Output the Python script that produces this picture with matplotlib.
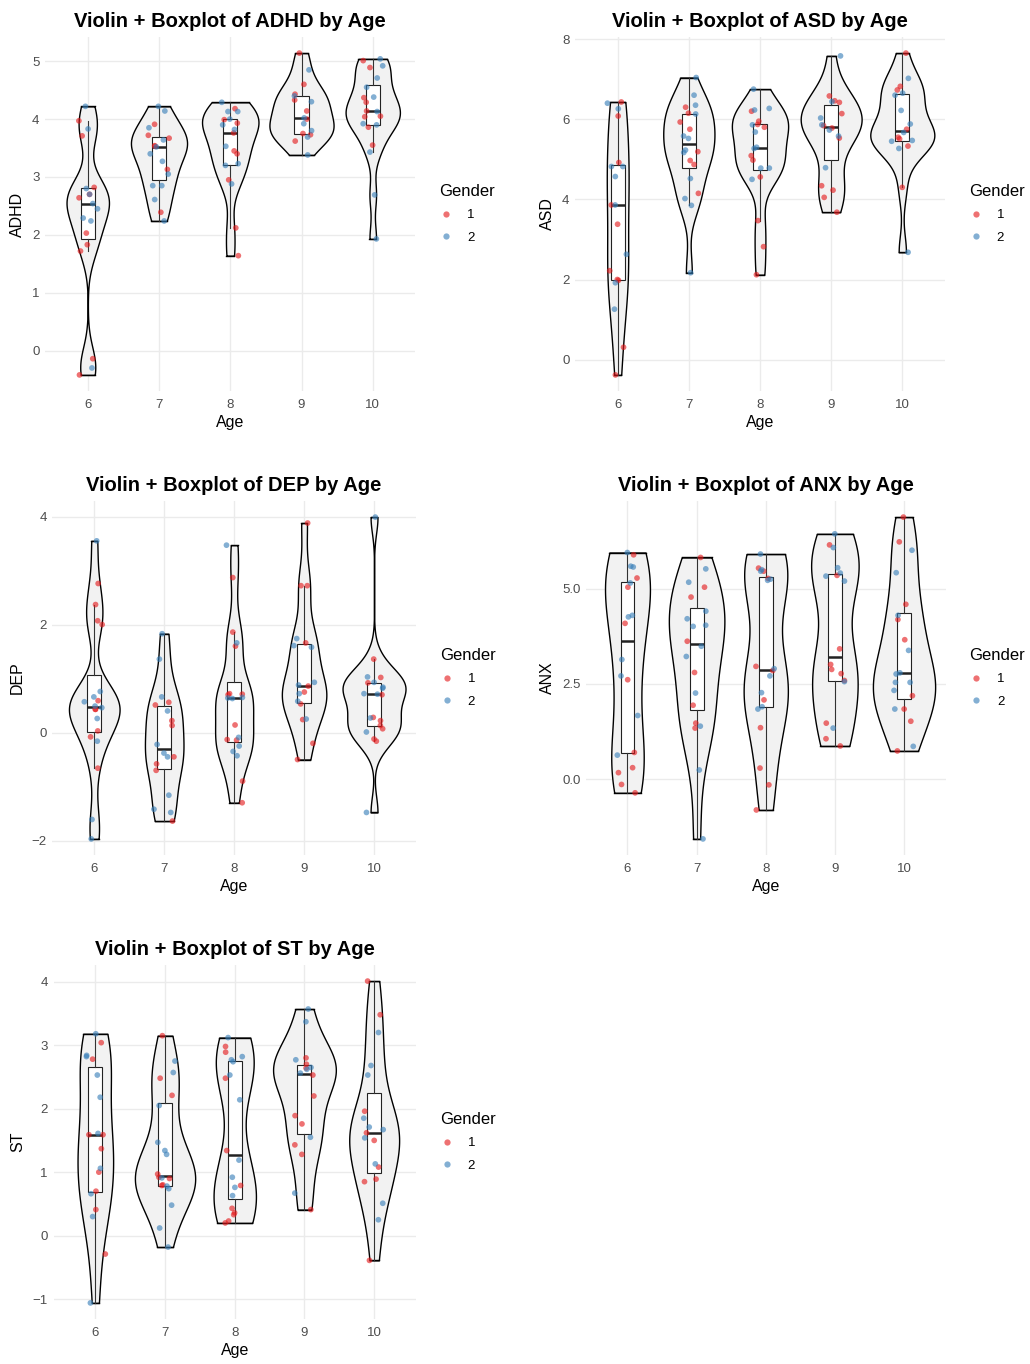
import numpy as np
import matplotlib
matplotlib.use("Agg")
import matplotlib.pyplot as plt
from matplotlib.lines import Line2D

plt.rcParams["font.family"] = ["Liberation Sans", "DejaVu Sans"]

AGES = [6, 7, 8, 9, 10]
GENDERS = ["1", "2"]
COLORS = {"1": "#E41A1C", "2": "#377EB8"}

# values per age (6..10), split by gender 1 / gender 2
ADHD_G1 = [[3.97, 3.71, 2.82, 2.70, 2.64, 2.03, 1.83, 1.72, -0.14, -0.42],
           [3.91, 3.72, 3.67, 3.54, 3.53, 3.13, 2.39],
           [4.18, 3.99, 3.93, 3.76, 3.45, 3.40, 2.95, 2.12, 1.64],
           [5.14, 4.60, 4.43, 4.33, 4.14, 4.00, 3.75, 3.73, 3.62],
           [5.01, 4.89, 4.37, 4.29, 4.14, 4.05, 4.04, 3.86, 3.55]]
ADHD_G2 = [[4.22, 3.83, 2.80, 2.70, 2.54, 2.45, 2.29, 2.24, -0.30],
           [4.22, 4.14, 3.85, 3.64, 3.52, 3.40, 3.27, 3.05, 2.85, 2.85, 2.61, 2.24],
           [4.29, 4.13, 4.13, 4.00, 3.90, 3.82, 3.53, 3.23, 3.20, 2.88],
           [4.85, 4.40, 4.30, 4.02, 3.92, 3.80, 3.69, 3.38],
           [5.04, 4.92, 4.71, 4.55, 4.38, 4.13, 3.92, 3.90, 3.43, 2.69, 1.93]]

ASD_G1 = [[6.43, 6.08, 4.92, 3.86, 3.38, 2.22, 2.00, 1.98, 0.31, -0.38],
          [6.30, 6.15, 5.93, 5.75, 5.19, 4.97, 4.87, 4.15],
          [6.20, 5.95, 5.87, 5.80, 5.09, 4.98, 4.56, 3.47, 2.82, 2.12],
          [6.58, 6.46, 6.42, 6.14, 5.84, 5.78, 5.53, 4.34, 4.23, 4.05, 3.68],
          [7.65, 6.82, 6.73, 5.75, 5.55, 5.51, 5.33, 4.30]]
ASD_G2 = [[6.40, 6.26, 4.82, 4.82, 4.57, 3.86, 2.63, 1.92, 1.26],
          [7.04, 6.60, 6.35, 6.13, 5.58, 5.52, 5.23, 5.17, 4.52, 4.02, 3.85, 2.17],
          [6.75, 6.27, 6.23, 5.86, 5.68, 5.30, 5.27, 4.78, 4.78, 4.50],
          [7.58, 6.44, 6.03, 5.86, 5.73, 5.58, 4.79],
          [7.02, 6.65, 6.60, 6.22, 5.88, 5.67, 5.47, 5.45, 5.27, 2.68]]

DEP_G1 = [[2.76, 2.37, 2.07, 2.00, 0.59, 0.43, 0.43, 0.03, -0.08, -0.66],
          [0.56, 0.51, 0.22, 0.13, -0.45, -0.58, -0.70, -1.64],
          [2.87, 1.86, 1.60, 0.72, 0.71, 0.70, 0.14, -0.13, -0.14, -0.90, -1.30],
          [3.88, 2.72, 2.72, 1.66, 0.86, 0.75, 0.53, 0.24, -0.20, -0.50],
          [1.36, 1.02, 0.92, 0.70, 0.28, 0.22, 0.13, 0.07, -0.12, -0.16]]
DEP_G2 = [[3.55, 0.76, 0.66, 0.57, 0.49, 0.46, 0.26, -0.16, -1.61, -1.97],
          [1.83, 1.36, 0.66, 0.40, -0.22, -0.38, -0.45, -1.16, -1.42, -1.48],
          [3.47, 1.66, 0.65, 0.64, 0.63, -0.09, -0.25, -0.35, -0.43],
          [1.74, 1.61, 1.58, 0.93, 0.88, 0.72, 0.58, 0.25],
          [3.99, 1.03, 0.93, 0.84, 0.82, 0.72, 0.71, 0.27, 0.01, -1.48]]

ANX_G1 = [[5.89, 5.28, 5.04, 4.09, 2.61, 0.70, 0.30, 0.17, -0.14, -0.36],
          [5.82, 5.04, 4.78, 3.62, 2.80, 1.94, 1.47, 1.34],
          [5.54, 5.46, 5.27, 2.96, 2.85, 2.08, 1.35, 0.29, -0.15, -0.81],
          [6.15, 5.35, 3.42, 3.01, 2.88, 2.77, 2.59, 1.47, 1.06, 0.87],
          [6.88, 6.23, 4.59, 4.19, 3.66, 2.19, 1.84, 1.52, 0.74]]
ANX_G2 = [[5.95, 5.59, 5.57, 5.15, 4.30, 4.26, 3.14, 2.71, 1.67, 0.63],
          [5.52, 5.17, 4.41, 4.21, 4.04, 4.01, 3.49, 3.22, 2.26, 1.39, 0.24, -1.57],
          [5.91, 5.50, 5.46, 5.25, 5.22, 2.90, 2.71, 2.27, 1.90, 1.84],
          [6.44, 6.08, 5.55, 5.41, 5.33, 5.20, 2.56, 1.34],
          [6.01, 5.42, 4.30, 3.38, 2.79, 2.76, 2.54, 2.54, 2.33, 1.84, 0.86]]

ST_G1 = [[3.04, 2.78, 1.59, 1.59, 1.37, 1.00, 0.70, 0.41, -0.29],
         [3.15, 2.48, 2.21, 0.97, 0.92, 0.90, 0.80, 0.79],
         [2.98, 2.89, 2.48, 1.34, 0.79, 0.43, 0.36, 0.33, 0.23, 0.20],
         [2.80, 2.70, 2.64, 2.53, 2.20, 1.89, 1.76, 1.43, 1.28, 0.41],
         [4.01, 3.48, 1.96, 1.62, 1.50, 1.08, 0.89, 0.85, -0.39]]
ST_G2 = [[3.18, 2.84, 2.82, 2.53, 2.18, 1.61, 1.06, 0.66, 0.30, -1.06],
         [2.75, 2.57, 2.05, 1.47, 1.34, 1.28, 0.91, 0.78, 0.74, 0.48, 0.12, -0.18],
         [3.12, 2.82, 2.77, 2.74, 2.53, 2.14, 1.19, 0.92, 0.76, 0.63],
         [3.57, 3.37, 2.77, 2.65, 2.62, 2.56, 1.55, 0.67],
         [3.20, 2.68, 2.53, 1.85, 1.71, 1.67, 1.54, 1.13, 0.51, 0.25]]

ADHD_TICKS = [0, 1, 2, 3, 4, 5]
ASD_TICKS = [0, 2, 4, 6, 8]
DEP_TICKS = [-2, 0, 2, 4]
ANX_TICKS = [0.0, 2.5, 5.0]
ST_TICKS = [-1, 0, 1, 2, 3, 4]

W, H = 1030, 1364
# panel boxes in pixels: left, top, right, bottom
PANELS = [
    ("ADHD", ADHD_G1, ADHD_G2, ADHD_TICKS, "{:.0f}", (45, 37, 415.5, 391)),
    ("ASD", ASD_G1, ASD_G2, ASD_TICKS, "{:.0f}", (575, 37, 945, 391)),
    ("DEP", DEP_G1, DEP_G2, DEP_TICKS, "{:.0f}", (52.3, 501, 416, 855)),
    ("ANX", ANX_G1, ANX_G2, ANX_TICKS, "{:.1f}", (586, 501, 945.5, 855)),
    ("ST", ST_G1, ST_G2, ST_TICKS, "{:.0f}", (53.5, 965, 416, 1319)),
]

rng = np.random.default_rng(3)


def nrd0(x):
    sd = np.std(x, ddof=1)
    q1, q3 = np.percentile(x, [25, 75])
    lo = min(sd, (q3 - q1) / 1.34)
    if lo <= 0:
        lo = sd if sd > 0 else 1.0
    return 0.9 * lo * len(x) ** -0.2


def kde(x, grid):
    bw = nrd0(x)
    z = (grid[:, None] - x[None, :]) / bw
    return np.exp(-0.5 * z ** 2).sum(1) / (len(x) * bw * np.sqrt(2 * np.pi))


fig = plt.figure(figsize=(W / 100, H / 100), dpi=100)

for name, g1, g2, ticks, fmt, (L, T, R, B) in PANELS:
    ax = fig.add_axes([L / W, 1 - B / H, (R - L) / W, (B - T) / H])
    groups = [np.array(a + b) for a, b in zip(g1, g2)]

    # violins, scale = "area": densities normalised by the overall max
    dens = []
    for vals in groups:
        yy = np.linspace(vals.min(), vals.max(), 512)
        dens.append((yy, kde(vals, yy)))
    dmax = max(d.max() for _, d in dens)
    for i, (yy, d) in enumerate(dens):
        hw = 0.45 * d / dmax
        ax.fill_betweenx(yy, i - hw, i + hw, facecolor="#F2F2F2",
                         edgecolor="black", lw=1.0, zorder=2)
        ax.plot([i - hw[0], i + hw[0]], [yy[0]] * 2, color="black", lw=1.0, zorder=2)
        ax.plot([i - hw[-1], i + hw[-1]], [yy[-1]] * 2, color="black", lw=1.0, zorder=2)

    ax.boxplot(groups, positions=range(len(AGES)), widths=0.2, whis=1.5,
               showfliers=False, showcaps=False, patch_artist=True,
               boxprops=dict(facecolor="white", edgecolor="#222222", lw=0.8),
               whiskerprops=dict(color="#333333", lw=0.8),
               medianprops=dict(color="#222222", lw=1.8),
               zorder=3, manage_ticks=False)

    for i in range(len(AGES)):
        for g, vals in zip(GENDERS, (g1[i], g2[i])):
            xj = i + rng.uniform(-0.15, 0.15, len(vals))
            ax.scatter(xj, vals, s=17, color=COLORS[g], alpha=0.62,
                       edgecolors="none", zorder=4)

    allv = np.concatenate(groups)
    span = allv.max() - allv.min()
    ax.set_ylim(allv.min() - 0.05 * span, allv.max() + 0.05 * span)
    ax.set_xlim(-0.6, len(AGES) - 0.4)
    ax.set_xticks(range(len(AGES)))
    ax.set_xticklabels([str(a) for a in AGES])
    ax.set_yticks(ticks)
    ax.set_yticklabels([fmt.format(t).replace("-", "\u2212") for t in ticks])
    ax.tick_params(length=0, labelsize=9.5, labelcolor="#4D4D4D", pad=4)
    ax.tick_params(axis="x", pad=6)
    ax.grid(True, color="#EBEBEB", lw=1.0, zorder=0)
    ax.set_axisbelow(True)
    for s in ax.spines.values():
        s.set_visible(False)
    ax.set_xlabel("Age", fontsize=11.5, labelpad=3)
    ax.set_ylabel(name, fontsize=11.5, labelpad=5)
    ax.set_title(f"Violin + Boxplot of {name} by Age", fontsize=14.5,
                 fontweight="bold", pad=7)

    handles = [Line2D([], [], marker="o", ls="", color=COLORS[g], alpha=0.62,
                      markersize=4.5, markeredgewidth=0, label=g) for g in GENDERS]
    leg = ax.legend(handles=handles, title="Gender", loc="center left",
                    bbox_to_anchor=(1 + 24 / (R - L), 0.5), frameon=False,
                    fontsize=9.5, title_fontsize=12, borderpad=0, borderaxespad=0,
                    handlelength=1.0, handletextpad=1.1, labelspacing=0.75,
                    alignment="left")

fig.savefig("out.png", dpi=100)
